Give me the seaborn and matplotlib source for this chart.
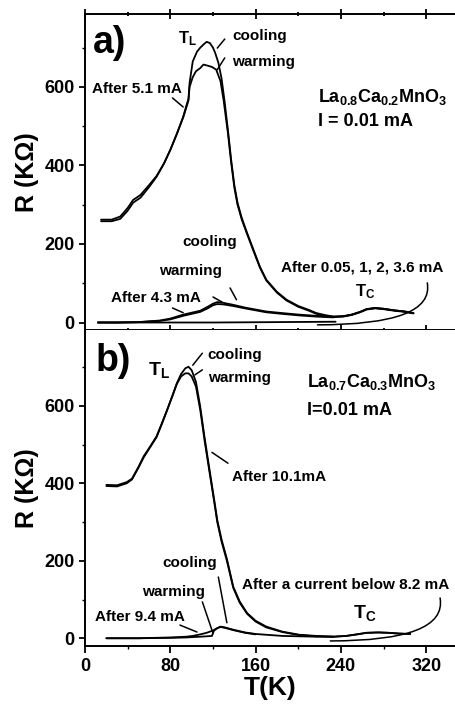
import numpy as np
import pandas as pd
import matplotlib
matplotlib.use("Agg")
import matplotlib.pyplot as plt
from matplotlib.ticker import MultipleLocator
import seaborn as sns

# ---- panel a) La0.8Ca0.2MnO3 ----
# after 5.1 mA, cooling (upper peak) and warming (lower peak)
a_hi_cool_T = [15, 25, 33, 40, 45, 52, 60, 67, 74, 80, 86, 92, 95, 97, 98, 101, 105, 108, 111, 114,
               117, 120, 122, 125, 128, 131, 134, 137, 140, 143, 147, 152, 158, 164, 170, 180, 189,
               200, 210, 217, 225, 233, 242, 250, 258, 264, 272, 280, 290, 300, 308]
a_hi_cool_R = [258, 258, 264, 285, 305, 318, 345, 371, 405, 440, 480, 524, 552, 570, 610, 665, 690, 700, 708, 715,
               712, 700, 687, 662, 622, 560, 490, 415, 350, 305, 266, 228, 185, 142, 109, 78, 58,
               42, 32, 24, 19, 15, 16, 20, 27, 34, 37, 35, 31, 28, 24]
a_hi_warm_T = [15, 25, 33, 40, 45, 52, 60, 67, 74, 80, 86, 92, 95, 97, 98, 101, 104, 108, 111, 114,
               119, 123, 127, 130, 134, 137, 140, 143, 147, 152, 158, 164, 170, 180, 189,
               200, 210, 217, 225, 233, 242, 250, 258, 264, 272, 280, 290, 300, 308]
a_hi_warm_R = [262, 262, 270, 292, 312, 325, 350, 373, 405, 440, 480, 522, 548, 566, 600, 625, 640, 648, 657, 655,
               651, 644, 615, 565, 482, 408, 344, 300, 262, 225, 182, 140, 107, 76, 56,
               40, 30, 22, 17, 14, 15, 19, 26, 33, 36, 34, 30, 27, 23]
# after 4.3 mA, cooling and warming
a_lo_cool_T = [12, 30, 50, 70, 80, 92, 100, 108, 115, 120, 124, 130, 139, 150, 160, 170, 185, 201, 217, 233,
               242, 250, 258, 264, 272, 280, 290, 300, 308]
a_lo_cool_R = [0, 0, 1, 5, 10, 20, 25, 30, 40, 48, 52, 50, 45, 38, 33, 28, 24, 20, 17, 15,
               16, 20, 27, 34, 37, 35, 31, 28, 24]
a_lo_warm_T = [12, 30, 50, 70, 80, 92, 100, 108, 115, 120, 124, 130, 139, 150, 160, 170, 185, 201, 217, 233]
a_lo_warm_R = [0, 0, 1, 4, 8, 17, 22, 27, 36, 44, 47, 46, 42, 36, 31, 26, 22, 18, 15, 13]
a_base_T = [12, 60, 120, 180, 235]
a_base_R = [0, 0, 0, 1, 2]

# ---- panel b) La0.7Ca0.3MnO3 ----
b_hi_cool_T = [20, 30, 39, 44, 50, 55, 61, 67, 72, 77, 82, 86, 90, 94, 97, 100, 104, 108, 112, 117,
               121, 124, 128, 133, 139, 145, 152, 160, 170, 185, 201, 217, 233, 245, 255, 264,
               275, 285, 295, 305]
b_hi_cool_R = [393, 392, 400, 410, 440, 467, 493, 519, 553, 589, 627, 658, 682, 697, 701, 692, 662, 598, 520, 430,
               360, 305, 255, 205, 133, 95, 65, 45, 30, 17, 9, 6, 4, 6, 10, 14,
               15, 14, 12, 11]
b_hi_warm_T = [20, 30, 39, 44, 50, 55, 61, 67, 72, 77, 82, 86, 90, 94, 97, 100, 104, 108, 112, 117,
               121, 124, 128, 133, 139, 145, 152, 160, 170, 185, 201, 217, 233]
b_hi_warm_R = [396, 395, 403, 412, 442, 470, 495, 521, 555, 590, 626, 656, 676, 684, 684, 676, 650, 590, 512, 424,
               354, 300, 250, 200, 130, 92, 63, 43, 28, 16, 8, 5, 4]
b_lo_cool_T = [20, 50, 80, 95, 101, 108, 114, 120, 124, 127, 131, 139, 150, 160, 170, 185, 201, 217, 233,
               245, 255, 264, 275, 285, 295, 305]
b_lo_cool_R = [0, 0, 2, 4, 6, 10, 14, 20, 26, 30, 28, 22, 15, 11, 9, 6, 5, 4, 4,
               6, 10, 14, 15, 14, 12, 11]
b_lo_warm_T = [20, 50, 80, 95, 101, 108, 114, 119, 121, 124, 127, 131, 139, 150, 160]
b_lo_warm_R = [0, 0, 1, 2, 3, 4, 5, 6, 20, 26, 29, 27, 21, 14, 10]

x_ticks = [0, 80, 160, 240, 320]
y_ticks = [0, 200, 400, 600]

sns.set_style("ticks")
plt.rcParams['font.family'] = ['Liberation Sans', 'DejaVu Sans']
plt.rcParams['font.weight'] = 'bold'
plt.rcParams['mathtext.fontset'] = 'custom'
plt.rcParams['mathtext.rm'] = 'Liberation Sans:bold'
plt.rcParams['mathtext.bf'] = 'Liberation Sans:bold'
plt.rcParams['mathtext.default'] = 'bf'
for k in ['text.color', 'axes.labelcolor', 'xtick.color', 'ytick.color', 'axes.edgecolor']:
    plt.rcParams[k] = 'black'

fig = plt.figure(figsize=(4.55, 7.04), dpi=100)
ax_a = fig.add_axes([0.187, 0.5313, 0.813, 0.4489])
ax_b = fig.add_axes([0.187, 0.0824, 0.813, 0.4489])


def draw(ax, T, R, lw=1.3):
    df = pd.DataFrame({'T': T, 'R': R})
    sns.lineplot(data=df, x='T', y='R', sort=False, color='black', lw=lw, ax=ax, estimator=None)


for T, R in [(a_hi_cool_T, a_hi_cool_R), (a_hi_warm_T, a_hi_warm_R), (a_lo_cool_T, a_lo_cool_R),
             (a_lo_warm_T, a_lo_warm_R), (a_base_T, a_base_R)]:
    draw(ax_a, T, R)
for T, R in [(b_hi_cool_T, b_hi_cool_R), (b_hi_warm_T, b_hi_warm_R), (b_lo_cool_T, b_lo_cool_R),
             (b_lo_warm_T, b_lo_warm_R)]:
    draw(ax_b, T, R)

ax_a.set_ylim(-19, 786)
ax_b.set_ylim(-20, 796)
for ax in (ax_a, ax_b):
    ax.set_xlim(0, 347)
    ax.set_xticks(x_ticks)
    ax.set_yticks(y_ticks)
    ax.xaxis.set_minor_locator(MultipleLocator(40))
    ax.yaxis.set_minor_locator(MultipleLocator(100))
    ax.spines['right'].set_visible(False)
    for s in ax.spines.values():
        s.set_linewidth(1.4)
    ax.tick_params(axis='y', which='major', direction='out', length=4, width=1.3, labelsize=13)
    ax.tick_params(axis='y', which='minor', direction='out', length=2, width=1)
    ax.set_ylabel('R (K\u03a9)', fontsize=18, fontweight='bold', labelpad=4)

ax_a.tick_params(axis='x', which='both', top=True, bottom=True, labelbottom=False,
                 direction='inout', width=1.3)
ax_a.tick_params(axis='x', which='major', length=7)
ax_a.tick_params(axis='x', which='minor', length=3)
ax_b.spines['top'].set_visible(False)
ax_b.tick_params(axis='x', which='major', direction='out', length=5, width=1.3, labelsize=13)
ax_b.tick_params(axis='x', which='minor', direction='out', length=2.5, width=1)
ax_a.set_xlabel('')
ax_b.set_xlabel('T(K)', fontsize=19, fontweight='bold', labelpad=1)

fs = 11
line = dict(arrowstyle='-', color='black', lw=1.1, shrinkA=0, shrinkB=0)


def lead(ax, p0, p1):
    ax.annotate('', xy=p1, xytext=p0, arrowprops=line)


# panel a texts
ax_a.text(7.5, 712, 'a)', fontsize=27, fontweight='bold', va='center', ha='left')
ax_a.text(87, 722, r'T$_\mathrm{L}$', fontsize=12, va='center')
ax_a.text(138, 730, 'cooling', fontsize=fs, va='center')
lead(ax_a, (124, 699), (131, 722))
ax_a.text(138, 664, 'warming', fontsize=fs, va='center')
lead(ax_a, (124, 644), (131, 674))
ax_a.text(6.5, 595, 'After 5.1 mA', fontsize=fs, va='center')
lead(ax_a, (82, 572), (92, 549))
ax_a.text(218.6, 575, r'La$_{0.8}$Ca$_{0.2}$MnO$_3$', fontsize=13, va='center')
ax_a.text(218.6, 511, 'I = 0.01 mA', fontsize=13, va='center')
ax_a.text(117, 205, 'cooling', fontsize=fs, va='center', ha='center')
lead(ax_a, (136, 88), (142, 58))
ax_a.text(98.5, 132, 'warming', fontsize=fs, va='center', ha='center')
lead(ax_a, (120, 65), (128.5, 52))
ax_a.text(66, 63, 'After 4.3 mA', fontsize=fs, va='center', ha='center')
lead(ax_a, (82, 37), (92, 25))
ax_a.text(260, 139, 'After 0.05, 1, 2, 3.6 mA', fontsize=fs, va='center', ha='center')
ax_a.text(263, 78, r'T$_\mathrm{C}$', fontsize=12, va='center', ha='center')
ax_a.annotate('', xy=(218, -6), xytext=(321, 101),
              arrowprops=dict(arrowstyle='-', color='black', lw=1.1, shrinkA=0, shrinkB=0,
                              connectionstyle='angle3,angleA=100,angleB=0'))

# panel b texts
ax_b.text(9.4, 716, 'b)', fontsize=27, fontweight='bold', va='center', ha='left')
ax_b.text(59, 692, r'T$_\mathrm{L}$', fontsize=14, va='center')
ax_b.text(115, 731, 'cooling', fontsize=fs, va='center')
lead(ax_b, (101, 705), (110, 736))
ax_b.text(115, 672, 'warming', fontsize=fs, va='center')
lead(ax_b, (103, 680), (110, 693))
ax_b.text(208, 661, r'La$_{0.7}$Ca$_{0.3}$MnO$_3$', fontsize=13, va='center')
ax_b.text(208, 589, 'I=0.01 mA', fontsize=13, va='center')
ax_b.text(138, 416, 'After 10.1mA', fontsize=fs, va='center')
lead(ax_b, (119, 480), (134, 452))
ax_b.text(98.5, 194, 'cooling', fontsize=fs, va='center', ha='center')
lead(ax_b, (125, 158), (133, 40))
ax_b.text(82.5, 120, 'warming', fontsize=fs, va='center', ha='center')
lead(ax_b, (110, 94), (120, 13))
ax_b.text(51, 55, 'After 9.4 mA', fontsize=fs, va='center', ha='center')
lead(ax_b, (89, 34), (105, 16))
ax_b.text(244, 138, 'After a current below 8.2 mA', fontsize=fs, va='center', ha='center')
ax_b.text(251, 65, r'T$_\mathrm{C}$', fontsize=14, va='center', ha='left')
ax_b.annotate('', xy=(230, -7), xytext=(333, 104),
              arrowprops=dict(arrowstyle='-', color='black', lw=1.1, shrinkA=0, shrinkB=0,
                              connectionstyle='angle3,angleA=100,angleB=0'))

fig.savefig('out.png', dpi=100)
